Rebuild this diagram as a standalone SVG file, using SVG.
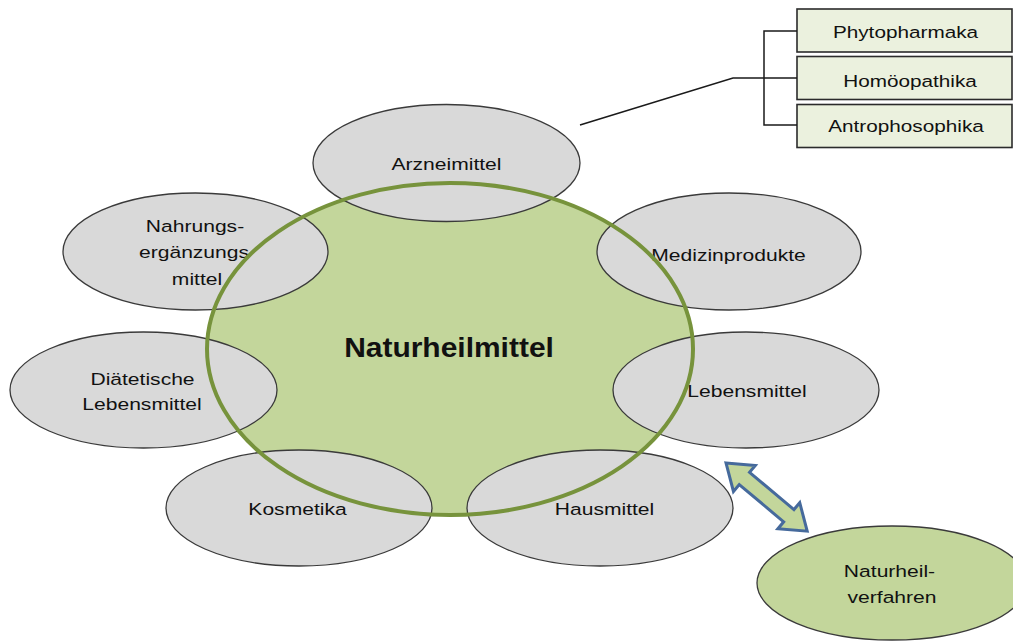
<svg xmlns="http://www.w3.org/2000/svg" width="1013" height="642" viewBox="0 0 1013 642">
  <style>
    .ell { fill: #d9d9d9; stroke: #3a3a3a; stroke-width: 1.3; }
    .lbl { font-family: "Liberation Sans", Arial, sans-serif; font-size: 17px; fill: #111; text-anchor: middle; }
    .main { font-family: "Liberation Sans", Arial, sans-serif; font-size: 27px; font-weight: bold; fill: #111; text-anchor: middle; }
    .box { fill: #ebf1de; stroke: #2b2b2b; stroke-width: 1.6; }
    .conn { fill: none; stroke: #1a1a1a; stroke-width: 1.5; }
  </style>
  <rect width="1013" height="642" fill="#ffffff"/>

  <!-- central circle fill -->
  <g id="naturheilmittel-fill">
    <ellipse cx="450" cy="349" rx="243" ry="166" fill="#c3d69b"/>
  </g>

  <g id="arzneimittel">
    <ellipse class="ell" cx="446.5" cy="163" rx="133.5" ry="58.5"/>
    <text class="lbl" transform="translate(446.5 170) scale(1.24 1)">Arzneimittel</text>
  </g>
  <g id="medizinprodukte">
    <ellipse class="ell" cx="729" cy="251.5" rx="132" ry="58.5"/>
    <text class="lbl" transform="translate(728.5 261) scale(1.24 1)">Medizinprodukte</text>
  </g>
  <g id="lebensmittel">
    <ellipse class="ell" cx="746" cy="390" rx="133" ry="58"/>
    <text class="lbl" transform="translate(747 397) scale(1.24 1)">Lebensmittel</text>
  </g>
  <g id="hausmittel">
    <ellipse class="ell" cx="600" cy="508" rx="133" ry="58"/>
    <text class="lbl" transform="translate(604.5 515) scale(1.24 1)">Hausmittel</text>
  </g>
  <g id="kosmetika">
    <ellipse class="ell" cx="299" cy="508" rx="133" ry="58"/>
    <text class="lbl" transform="translate(297.5 515) scale(1.24 1)">Kosmetika</text>
  </g>
  <g id="diaetetische-lebensmittel">
    <ellipse class="ell" cx="143.5" cy="390" rx="133.5" ry="58"/>
    <text class="lbl" transform="translate(142.5 385) scale(1.24 1)">Diätetische</text>
    <text class="lbl" transform="translate(142 410) scale(1.24 1)">Lebensmittel</text>
  </g>
  <g id="nahrungsergaenzungsmittel">
    <ellipse class="ell" cx="195.5" cy="251.5" rx="132.5" ry="58.5"/>
    <text class="lbl" transform="translate(195 232) scale(1.24 1)">Nahrungs-</text>
    <text class="lbl" transform="translate(194 258) scale(1.24 1)">ergänzungs</text>
    <text class="lbl" transform="translate(197 285) scale(1.24 1)">mittel</text>
  </g>

  <!-- central circle outline and label -->
  <g id="naturheilmittel">
    <ellipse cx="450" cy="349" rx="243" ry="166" fill="none" stroke="#77933c" stroke-width="4"/>
    <text class="main" transform="translate(449 357) scale(1.11 1)">Naturheilmittel</text>
  </g>

  <g id="naturheilverfahren">
    <ellipse cx="892" cy="583" rx="135" ry="57" fill="#c3d69b" stroke="#3a3a3a" stroke-width="1.3"/>
    <text class="lbl" transform="translate(889.5 577) scale(1.24 1)">Naturheil-</text>
    <text class="lbl" transform="translate(892 603) scale(1.24 1)">verfahren</text>
  </g>

  <g id="phytopharmaka">
    <rect class="box" x="797" y="9" width="215" height="43"/>
    <text class="lbl" transform="translate(905.5 38) scale(1.22 1)">Phytopharmaka</text>
  </g>
  <g id="homoeopathika">
    <rect class="box" x="797" y="56.5" width="215" height="43"/>
    <text class="lbl" transform="translate(910 87) scale(1.22 1)">Homöopathika</text>
  </g>
  <g id="antrophosophika">
    <rect class="box" x="797" y="104.5" width="215" height="43"/>
    <text class="lbl" transform="translate(906 132) scale(1.22 1)">Antrophosophika</text>
  </g>

  <g id="connectors">
    <path class="conn" stroke-width="2" d="M580 125 L733 78 L764 78"/>
    <path class="conn" d="M797 31 H764 V125 H797 M764 78 H797"/>
    <polygon transform="translate(726 463) rotate(40)" points="0,0 24,-17 24,-8 82,-8 82,-17 106,0 82,17 82,8 24,8 24,17" fill="#c3d69b" stroke="#466a9c" stroke-width="3" stroke-linejoin="miter"/>
  </g>
</svg>
